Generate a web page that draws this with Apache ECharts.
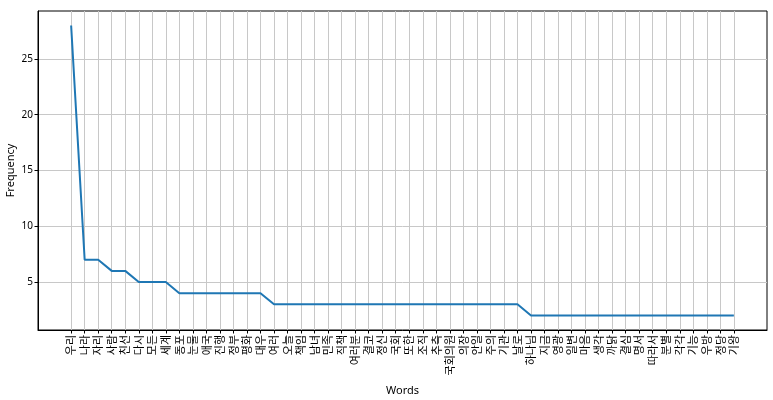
<!DOCTYPE html>
<html>
<head>
  <meta charset="utf-8">
  <title>Word frequency</title>
  <style>
    body {
      margin: 0;
      background: #fff;
    }

    #chart {
      width: 773px;
      height: 400px;
    }
  </style>
</head>
<body>
  <div id="chart"></div>
</body>
<script src="https://cdn.jsdelivr.net/npm/echarts@6/dist/echarts.min.js"></script>
<script>
  // 단어 목록 (x축)
  var words = ['우리', '나라', '자리', '사람', '친선', '다시', '모든', '세계', '동포', '눈물',
    '애국', '진행', '정부', '평화', '대우', '여러', '오늘', '책임', '남녀', '민족',
    '직책', '여러분', '결코', '정신', '국회', '또한', '조직', '추측', '국회의원', '의장',
    '안일', '주의', '기관', '날로', '하나님', '지금', '영광', '일변', '마음', '생각',
    '까닭', '결심', '명서', '따라서', '분별', '각각', '기능', '우방', '정당', '기왕'];
  // 빈도
  var counts = [28, 7, 7, 6, 6, 5, 5, 5, 4, 4,
    4, 4, 4, 4, 4, 3, 3, 3, 3, 3,
    3, 3, 3, 3, 3, 3, 3, 3, 3, 3,
    3, 3, 3, 3, 2, 2, 2, 2, 2, 2,
    2, 2, 2, 2, 2, 2, 2, 2, 2, 2];
  var yTicks = [5, 10, 15, 20, 25];

  var xTicks = words.map(function (w, i) { return i; });
  var points = counts.map(function (c, i) { return [i, c]; });

  var chart = echarts.init(document.getElementById('chart'));
  var gridColor = '#c8c8c8';
  var option = {
    animation: false,
    grid: {
      left: 38,
      right: 6,
      top: 11,
      bottom: 70,
      outerBoundsMode: 'none',
      containLabel: false,
      show: true,
      borderColor: '#000',
      borderWidth: 1
    },
    xAxis: {
      type: 'value',
      min: -2.45,
      max: 51.45,
      name: 'Words',
      nameLocation: 'middle',
      nameGap: 55,
      nameMoveOverlap: false,
      nameTextStyle: { fontFamily: 'Noto Sans', fontSize: 11, color: '#000' },
      axisLine: { show: true, onZero: false, lineStyle: { color: '#000' } },
      axisTick: { show: true, length: 3.5, customValues: xTicks, lineStyle: { color: '#000' } },
      axisLabel: {
        customValues: xTicks,
        rotate: 90,
        margin: 5,
        fontFamily: 'Noto Sans CJK KR',
        fontSize: 11,
        color: '#000',
        formatter: function (v) { return words[v]; }
      },
      splitLine: { show: true, lineStyle: { color: gridColor, width: 1 } }
    },
    yAxis: {
      type: 'value',
      min: 0.7,
      max: 29.3,
      name: 'Frequency',
      nameLocation: 'middle',
      nameGap: 22,
      nameMoveOverlap: false,
      nameTextStyle: { fontFamily: 'Noto Sans', fontSize: 11, color: '#000' },
      axisLine: { show: true, onZero: false, lineStyle: { color: '#000' } },
      axisTick: { show: true, length: 3.5, customValues: yTicks, lineStyle: { color: '#000' } },
      axisLabel: {
        customValues: yTicks,
        margin: 5,
        fontFamily: 'Noto Sans',
        fontSize: 10,
        color: '#000'
      },
      splitLine: { show: true, lineStyle: { color: gridColor, width: 1 } }
    },
    series: [{
      type: 'line',
      data: points,
      showSymbol: false,
      lineStyle: { color: '#1f77b4', width: 2 }
    }]
  };
  chart.setOption(option);
</script>
</html>
